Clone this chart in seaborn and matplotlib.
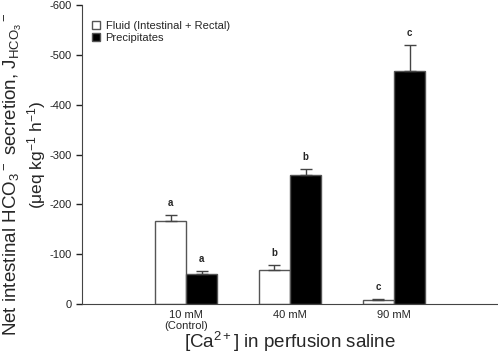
import pandas as pd
import numpy as np
import matplotlib
matplotlib.use('Agg')
import matplotlib.pyplot as plt
import seaborn as sns

# Data (negative = secretion)
groups = ['10 mM\n(Control)', '40 mM', '90 mM']
fluid = [-167, -69, -9]
fluid_sem = [12, 9, 2]
precip = [-61, -259, -468]
precip_sem = [6, 11, 51]
fluid_letters = ['a', 'b', 'c']
precip_letters = ['a', 'b', 'c']
series = ['Fluid (Intestinal + Rectal)', 'Precipitates']

df = pd.DataFrame({
    'group': groups * 2,
    'value': fluid + precip,
    'series': [series[0]] * 3 + [series[1]] * 3,
})

sns.set_style('ticks')
plt.rcParams['font.family'] = ['Liberation Sans', 'DejaVu Sans']
plt.rcParams['mathtext.fontset'] = 'custom'
plt.rcParams['mathtext.rm'] = 'Liberation Sans'
plt.rcParams['mathtext.it'] = 'Liberation Sans:italic'
plt.rcParams['mathtext.default'] = 'regular'
plt.rcParams['axes.unicode_minus'] = False

fig = plt.figure(figsize=(4.98, 3.56), dpi=100)
ax = fig.add_axes([0.165, 0.146, 0.835, 0.84])

sns.barplot(data=df, x='group', y='value', hue='series', palette=['white', 'black'],
            edgecolor='#555555', linewidth=1, width=0.6, errorbar=None, ax=ax)

# error bars and significance letters
for i, (vals, sems, letters) in enumerate([(fluid, fluid_sem, fluid_letters),
                                             (precip, precip_sem, precip_letters)]):
    xs = np.arange(len(groups)) + (-0.15 if i == 0 else 0.15)
    ax.errorbar(xs, vals, yerr=[sems, [0] * len(sems)], fmt='none',
                ecolor='#444444', elinewidth=1, capsize=4, capthick=1)
    for x, v, s, l in zip(xs, vals, sems, letters):
        ax.text(x, v - s - 14, l, ha='center', va='bottom', fontsize=7, fontweight='bold')

ax.set_ylim(0, -600)
ax.set_xlim(-1, 3)
ax.set_yticks(np.arange(-600, 1, 100))
ax.tick_params(axis='y', labelsize=8, length=4, width=1, colors='#222222')
ax.tick_params(axis='x', labelsize=8, length=0, pad=4)
sns.despine(ax=ax)
ax.spines['left'].set_color('#444444')
ax.spines['bottom'].set_color('#444444')

ax.set_xlabel('')
ax.set_ylabel('')
fig.text(0.583, 0.022, '[Ca$^{2+}$] in perfusion saline', ha='center', va='baseline', fontsize=13.5)
fig.text(0.027, 0.51, 'Net intestinal HCO$_3$$^-$ secretion, J$_{HCO_3}$$^-$',
         rotation=90, ha='center', va='center', fontsize=13.5)
fig.text(0.074, 0.565, '($\\mu$eq kg$^{-1}$ h$^{-1}$)',
         rotation=90, ha='center', va='center', fontsize=12.5)

ax.legend(loc='upper left', bbox_to_anchor=(0.0, 0.98), frameon=False, fontsize=8,
          handlelength=0.7, handleheight=0.7, handletextpad=0.5, labelspacing=0.2)

fig.savefig('out.png', dpi=100)
